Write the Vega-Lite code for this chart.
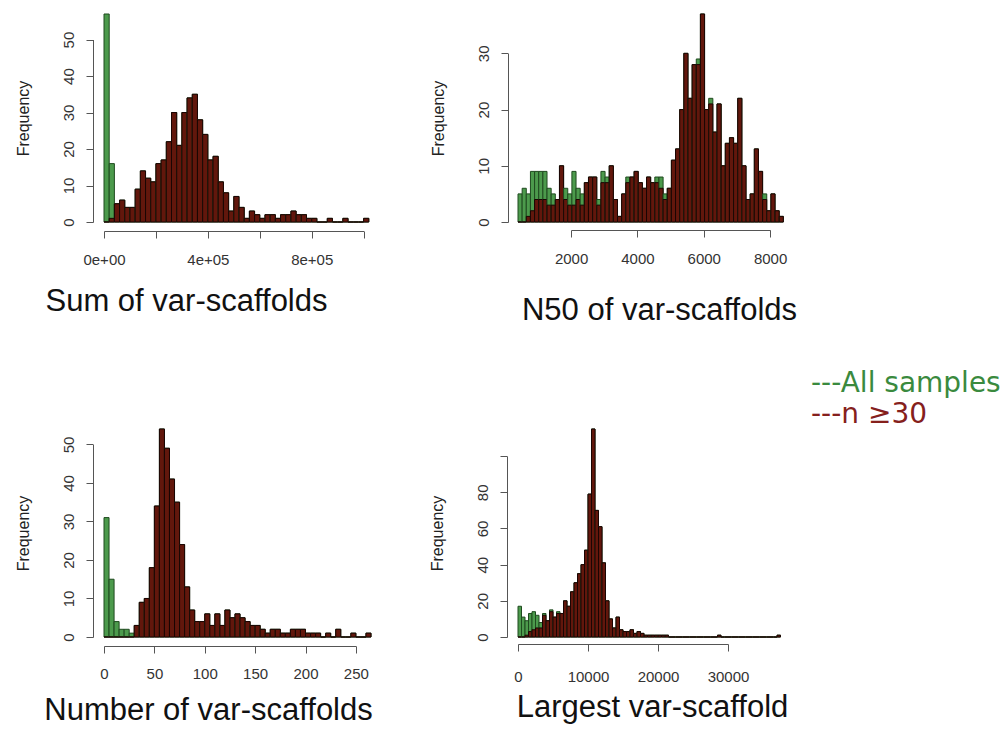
{
  "$schema": "https://vega.github.io/schema/vega-lite/v6.json",
  "background": "white",
  "padding": {"left": 15, "top": 13, "right": 2, "bottom": 0},
  "bounds": "flush",
  "columns": 2,
  "spacing": {"row": 207, "column": 144},
  "datasets": {
    "sum": [
      {"b":0,"e":20000,"all":57,"n30":0},{"b":20000,"e":40000,"all":16,"n30":1},{"b":40000,"e":60000,"all":5,"n30":5},{"b":60000,"e":80000,"all":6,"n30":6},{"b":80000,"e":100000,"all":4,"n30":4},{"b":100000,"e":120000,"all":4,"n30":4},{"b":120000,"e":140000,"all":9,"n30":9},{"b":140000,"e":160000,"all":14,"n30":14},{"b":160000,"e":180000,"all":12,"n30":12},{"b":180000,"e":200000,"all":11,"n30":11},{"b":200000,"e":220000,"all":16,"n30":16},{"b":220000,"e":240000,"all":17,"n30":17},{"b":240000,"e":260000,"all":22,"n30":22},{"b":260000,"e":280000,"all":30,"n30":30},{"b":280000,"e":300000,"all":21,"n30":21},{"b":300000,"e":320000,"all":30,"n30":30},{"b":320000,"e":340000,"all":34,"n30":34},{"b":340000,"e":360000,"all":35,"n30":35},{"b":360000,"e":380000,"all":28,"n30":28},{"b":380000,"e":400000,"all":24,"n30":24},{"b":400000,"e":420000,"all":17,"n30":17},{"b":420000,"e":440000,"all":18,"n30":18},{"b":440000,"e":460000,"all":11,"n30":11},{"b":460000,"e":480000,"all":8,"n30":8},{"b":480000,"e":500000,"all":3,"n30":3},{"b":500000,"e":520000,"all":7,"n30":7},{"b":520000,"e":540000,"all":4,"n30":4},{"b":540000,"e":560000,"all":1,"n30":1},{"b":560000,"e":580000,"all":3,"n30":3},{"b":580000,"e":600000,"all":2,"n30":2},{"b":600000,"e":620000,"all":1,"n30":1},{"b":620000,"e":640000,"all":2,"n30":2},{"b":640000,"e":660000,"all":2,"n30":2},{"b":660000,"e":680000,"all":1,"n30":1},{"b":680000,"e":700000,"all":2,"n30":2},{"b":700000,"e":720000,"all":2,"n30":2},{"b":720000,"e":740000,"all":3,"n30":3},{"b":740000,"e":760000,"all":2,"n30":2},{"b":760000,"e":780000,"all":2,"n30":2},{"b":780000,"e":800000,"all":1,"n30":1},{"b":800000,"e":820000,"all":1,"n30":1},{"b":820000,"e":840000,"all":0,"n30":0},{"b":840000,"e":860000,"all":0,"n30":0},{"b":860000,"e":880000,"all":1,"n30":1},{"b":880000,"e":900000,"all":0,"n30":0},{"b":900000,"e":920000,"all":0,"n30":0},{"b":920000,"e":940000,"all":1,"n30":1},{"b":940000,"e":960000,"all":0,"n30":0},{"b":960000,"e":980000,"all":0,"n30":0},{"b":980000,"e":1000000,"all":0,"n30":0},{"b":1000000,"e":1020000,"all":1,"n30":1}
    ],
    "n50": [
      {"b":400,"e":525,"all":5,"n30":0},{"b":525,"e":650,"all":6,"n30":0},{"b":650,"e":775,"all":5,"n30":1},{"b":775,"e":900,"all":9,"n30":2},{"b":900,"e":1025,"all":9,"n30":4},{"b":1025,"e":1150,"all":9,"n30":4},{"b":1150,"e":1275,"all":9,"n30":4},{"b":1275,"e":1400,"all":6,"n30":3},{"b":1400,"e":1525,"all":5,"n30":3},{"b":1525,"e":1650,"all":4,"n30":4},{"b":1650,"e":1775,"all":10,"n30":10},{"b":1775,"e":1900,"all":6,"n30":4},{"b":1900,"e":2025,"all":5,"n30":3},{"b":2025,"e":2150,"all":9,"n30":3},{"b":2150,"e":2275,"all":6,"n30":4},{"b":2275,"e":2400,"all":5,"n30":3},{"b":2400,"e":2525,"all":7,"n30":7},{"b":2525,"e":2650,"all":8,"n30":8},{"b":2650,"e":2775,"all":8,"n30":8},{"b":2775,"e":2900,"all":4,"n30":3},{"b":2900,"e":3025,"all":9,"n30":7},{"b":3025,"e":3150,"all":8,"n30":7},{"b":3150,"e":3275,"all":10,"n30":10},{"b":3275,"e":3400,"all":4,"n30":4},{"b":3400,"e":3525,"all":1,"n30":1},{"b":3525,"e":3650,"all":5,"n30":5},{"b":3650,"e":3775,"all":8,"n30":7},{"b":3775,"e":3900,"all":8,"n30":8},{"b":3900,"e":4025,"all":9,"n30":9},{"b":4025,"e":4150,"all":7,"n30":7},{"b":4150,"e":4275,"all":6,"n30":6},{"b":4275,"e":4400,"all":8,"n30":8},{"b":4400,"e":4525,"all":7,"n30":7},{"b":4525,"e":4650,"all":8,"n30":7},{"b":4650,"e":4775,"all":8,"n30":6},{"b":4775,"e":4900,"all":5,"n30":4},{"b":4900,"e":5025,"all":6,"n30":6},{"b":5025,"e":5150,"all":11,"n30":11},{"b":5150,"e":5275,"all":13,"n30":13},{"b":5275,"e":5400,"all":20,"n30":20},{"b":5400,"e":5525,"all":30,"n30":30},{"b":5525,"e":5650,"all":22,"n30":22},{"b":5650,"e":5775,"all":28,"n30":28},{"b":5775,"e":5900,"all":29,"n30":28},{"b":5900,"e":6025,"all":37,"n30":37},{"b":6025,"e":6150,"all":20,"n30":20},{"b":6150,"e":6275,"all":22,"n30":21},{"b":6275,"e":6400,"all":16,"n30":16},{"b":6400,"e":6525,"all":21,"n30":21},{"b":6525,"e":6650,"all":10,"n30":10},{"b":6650,"e":6775,"all":14,"n30":14},{"b":6775,"e":6900,"all":15,"n30":15},{"b":6900,"e":7025,"all":14,"n30":14},{"b":7025,"e":7150,"all":22,"n30":22},{"b":7150,"e":7275,"all":10,"n30":10},{"b":7275,"e":7400,"all":4,"n30":4},{"b":7400,"e":7525,"all":5,"n30":5},{"b":7525,"e":7650,"all":13,"n30":13},{"b":7650,"e":7775,"all":9,"n30":9},{"b":7775,"e":7900,"all":5,"n30":4},{"b":7900,"e":8025,"all":2,"n30":2},{"b":8025,"e":8150,"all":5,"n30":5},{"b":8150,"e":8275,"all":2,"n30":2},{"b":8275,"e":8400,"all":1,"n30":1}
    ],
    "num": [
      {"b":0,"e":5,"all":31,"n30":0},{"b":5,"e":10,"all":15,"n30":0},{"b":10,"e":15,"all":4,"n30":0},{"b":15,"e":20,"all":2,"n30":0},{"b":20,"e":25,"all":2,"n30":0},{"b":25,"e":30,"all":1,"n30":0},{"b":30,"e":35,"all":3,"n30":3},{"b":35,"e":40,"all":9,"n30":9},{"b":40,"e":45,"all":10,"n30":10},{"b":45,"e":50,"all":18,"n30":18},{"b":50,"e":55,"all":34,"n30":34},{"b":55,"e":60,"all":54,"n30":54},{"b":60,"e":65,"all":49,"n30":49},{"b":65,"e":70,"all":41,"n30":41},{"b":70,"e":75,"all":35,"n30":35},{"b":75,"e":80,"all":24,"n30":24},{"b":80,"e":85,"all":13,"n30":13},{"b":85,"e":90,"all":7,"n30":7},{"b":90,"e":95,"all":4,"n30":4},{"b":95,"e":100,"all":4,"n30":4},{"b":100,"e":105,"all":6,"n30":6},{"b":105,"e":110,"all":3,"n30":3},{"b":110,"e":115,"all":6,"n30":6},{"b":115,"e":120,"all":3,"n30":3},{"b":120,"e":125,"all":7,"n30":7},{"b":125,"e":130,"all":5,"n30":5},{"b":130,"e":135,"all":6,"n30":6},{"b":135,"e":140,"all":5,"n30":5},{"b":140,"e":145,"all":4,"n30":4},{"b":145,"e":150,"all":3,"n30":3},{"b":150,"e":155,"all":3,"n30":3},{"b":155,"e":160,"all":2,"n30":2},{"b":160,"e":165,"all":1,"n30":1},{"b":165,"e":170,"all":2,"n30":2},{"b":170,"e":175,"all":2,"n30":2},{"b":175,"e":180,"all":1,"n30":1},{"b":180,"e":185,"all":1,"n30":1},{"b":185,"e":190,"all":2,"n30":2},{"b":190,"e":195,"all":2,"n30":2},{"b":195,"e":200,"all":2,"n30":2},{"b":200,"e":205,"all":1,"n30":1},{"b":205,"e":210,"all":1,"n30":1},{"b":210,"e":215,"all":1,"n30":1},{"b":215,"e":220,"all":0,"n30":0},{"b":220,"e":225,"all":1,"n30":1},{"b":225,"e":230,"all":0,"n30":0},{"b":230,"e":235,"all":2,"n30":2},{"b":235,"e":240,"all":0,"n30":0},{"b":240,"e":245,"all":0,"n30":0},{"b":245,"e":250,"all":1,"n30":1},{"b":250,"e":255,"all":0,"n30":0},{"b":255,"e":260,"all":0,"n30":0},{"b":260,"e":265,"all":1,"n30":1}
    ],
    "largest": [
      {"b":0,"e":500,"all":17,"n30":0},{"b":500,"e":1000,"all":11,"n30":0},{"b":1000,"e":1500,"all":9,"n30":1},{"b":1500,"e":2000,"all":13,"n30":3},{"b":2000,"e":2500,"all":14,"n30":4},{"b":2500,"e":3000,"all":12,"n30":5},{"b":3000,"e":3500,"all":8,"n30":5},{"b":3500,"e":4000,"all":13,"n30":12},{"b":4000,"e":4500,"all":9,"n30":9},{"b":4500,"e":5000,"all":15,"n30":14},{"b":5000,"e":5500,"all":11,"n30":11},{"b":5500,"e":6000,"all":14,"n30":13},{"b":6000,"e":6500,"all":13,"n30":13},{"b":6500,"e":7000,"all":20,"n30":20},{"b":7000,"e":7500,"all":17,"n30":17},{"b":7500,"e":8000,"all":25,"n30":25},{"b":8000,"e":8500,"all":30,"n30":30},{"b":8500,"e":9000,"all":35,"n30":35},{"b":9000,"e":9500,"all":40,"n30":40},{"b":9500,"e":10000,"all":48,"n30":48},{"b":10000,"e":10500,"all":79,"n30":79},{"b":10500,"e":11000,"all":115,"n30":115},{"b":11000,"e":11500,"all":70,"n30":70},{"b":11500,"e":12000,"all":61,"n30":61},{"b":12000,"e":12500,"all":41,"n30":41},{"b":12500,"e":13000,"all":20,"n30":20},{"b":13000,"e":13500,"all":10,"n30":10},{"b":13500,"e":14000,"all":5,"n30":5},{"b":14000,"e":14500,"all":11,"n30":11},{"b":14500,"e":15000,"all":4,"n30":4},{"b":15000,"e":15500,"all":3,"n30":3},{"b":15500,"e":16000,"all":3,"n30":3},{"b":16000,"e":16500,"all":4,"n30":4},{"b":16500,"e":17000,"all":2,"n30":2},{"b":17000,"e":17500,"all":3,"n30":3},{"b":17500,"e":18000,"all":2,"n30":2},{"b":18000,"e":18500,"all":1,"n30":1},{"b":18500,"e":19000,"all":1,"n30":1},{"b":19000,"e":19500,"all":1,"n30":1},{"b":19500,"e":20000,"all":1,"n30":1},{"b":20000,"e":20500,"all":1,"n30":1},{"b":20500,"e":21000,"all":1,"n30":1},{"b":21000,"e":21500,"all":1,"n30":1},{"b":21500,"e":22000,"all":0,"n30":0},{"b":22000,"e":22500,"all":0,"n30":0},{"b":22500,"e":23000,"all":0,"n30":0},{"b":23000,"e":23500,"all":0,"n30":0},{"b":23500,"e":24000,"all":0,"n30":0},{"b":24000,"e":24500,"all":0,"n30":0},{"b":24500,"e":25000,"all":0,"n30":0},{"b":25000,"e":25500,"all":0,"n30":0},{"b":25500,"e":26000,"all":0,"n30":0},{"b":26000,"e":26500,"all":0,"n30":0},{"b":26500,"e":27000,"all":0,"n30":0},{"b":27000,"e":27500,"all":0,"n30":0},{"b":27500,"e":28000,"all":0,"n30":0},{"b":28000,"e":28500,"all":0,"n30":0},{"b":28500,"e":29000,"all":1,"n30":1},{"b":29000,"e":29500,"all":0,"n30":0},{"b":29500,"e":30000,"all":0,"n30":0},{"b":30000,"e":30500,"all":0,"n30":0},{"b":30500,"e":31000,"all":0,"n30":0},{"b":31000,"e":31500,"all":0,"n30":0},{"b":31500,"e":32000,"all":0,"n30":0},{"b":32000,"e":32500,"all":0,"n30":0},{"b":32500,"e":33000,"all":0,"n30":0},{"b":33000,"e":33500,"all":0,"n30":0},{"b":33500,"e":34000,"all":0,"n30":0},{"b":34000,"e":34500,"all":0,"n30":0},{"b":34500,"e":35000,"all":0,"n30":0},{"b":35000,"e":35500,"all":0,"n30":0},{"b":35500,"e":36000,"all":0,"n30":0},{"b":36000,"e":36500,"all":0,"n30":0},{"b":36500,"e":37000,"all":0,"n30":0},{"b":37000,"e":37500,"all":1,"n30":1}
    ]
  },
  "concat": [
    {
      "width": 270, "height": 208,
      "data": {"name": "sum"},
      "transform": [{"fold": ["all", "n30"], "as": ["key", "count"]}],
      "mark": {"type": "bar", "strokeWidth": 1},
      "encoding": {
        "x": {"field": "b", "type": "quantitative", "scale": {"domain": [0, 1040000], "nice": false, "zero": false},
          "axis": {"values": [0, 200000, 400000, 600000, 800000, 1000000], "labelExpr": "datum.value == 0 ? '0e+00' : datum.value == 400000 ? '4e+05' : datum.value == 800000 ? '8e+05' : ''", "offset": 9, "labelPadding": 14, "domainDash": [259.6, 1000],
            "title": "Sum of var-scaffolds", "titleX": 82, "titleY": 79, "titleAlign": "center", "titleBaseline": "alphabetic", "titleAnchor": null}},
        "x2": {"field": "e"},
        "y": {"field": "count", "type": "quantitative", "stack": null, "scale": {"domain": [0, 57], "nice": false},
          "axis": {"values": [0, 10, 20, 30, 40, 50], "title": "Frequency", "domainDash": [182.5, 1000]}},
        "y2": {"datum": 0},
        "color": {"field": "key", "type": "nominal", "scale": {"domain": ["all", "n30"], "range": ["#4c9a4c", "#62170c"]},
          "legend": {"orient": "none", "legendX": 679, "legendY": 356, "title": null, "symbolSize": 0, "symbolOpacity": 0, "symbolStrokeWidth": 0, "labelOffset": 0, "labelFont": "DejaVu Sans", "labelFontSize": 28, "labelLimit": 400, "rowPadding": 3,
            "labelExpr": "datum.value == 'all' ? '---All samples' : '---n \u226530'",
            "encode": {"labels": {"update": {"fill": {"signal": "datum.value == 'all' ? '#3a8a3e' : '#85201c'"}}}}}},
        "stroke": {"field": "key", "type": "nominal", "scale": {"domain": ["all", "n30"], "range": ["#1f4a1f", "#1a0503"]}, "legend": null}
      }
    },
    {
      "width": 266, "height": 208,
      "data": {"name": "n50"},
      "transform": [{"fold": ["all", "n30"], "as": ["key", "count"]}],
      "mark": {"type": "bar", "strokeWidth": 1},
      "encoding": {
        "x": {"field": "b", "type": "quantitative", "scale": {"domain": [400, 8420], "nice": false, "zero": false},
          "axis": {"values": [2000, 4000, 6000, 8000], "format": "d", "offset": 8, "labelPadding": 14, "domainDash": [0, 53.1, 199, 1000],
            "title": "N50 of var-scaffolds", "titleX": 141, "titleY": 89, "titleAlign": "center", "titleBaseline": "alphabetic", "titleAnchor": null}},
        "x2": {"field": "e"},
        "y": {"field": "count", "type": "quantitative", "stack": null, "scale": {"domain": [0, 37], "nice": false},
          "axis": {"values": [0, 10, 20, 30], "title": "Frequency", "offset": 10, "domainDash": [168.6, 1000]}},
        "y2": {"datum": 0},
        "color": {"field": "key", "type": "nominal", "scale": {"domain": ["all", "n30"], "range": ["#4c9a4c", "#62170c"]},
          "legend": {"orient": "none", "legendX": 679, "legendY": 356, "title": null, "symbolSize": 0, "symbolOpacity": 0, "symbolStrokeWidth": 0, "labelOffset": 0, "labelFont": "DejaVu Sans", "labelFontSize": 28, "labelLimit": 400, "rowPadding": 3,
            "labelExpr": "datum.value == 'all' ? '---All samples' : '---n \u226530'",
            "encode": {"labels": {"update": {"fill": {"signal": "datum.value == 'all' ? '#3a8a3e' : '#85201c'"}}}}}},
        "stroke": {"field": "key", "type": "nominal", "scale": {"domain": ["all", "n30"], "range": ["#1f4a1f", "#1a0503"]}, "legend": null}
      }
    },
    {
      "width": 267, "height": 208,
      "data": {"name": "num"},
      "transform": [{"fold": ["all", "n30"], "as": ["key", "count"]}],
      "mark": {"type": "bar", "strokeWidth": 1},
      "encoding": {
        "x": {"field": "b", "type": "quantitative", "scale": {"domain": [0, 265], "nice": false, "zero": false},
          "axis": {"values": [0, 50, 100, 150, 200, 250], "format": "d", "offset": 9, "labelPadding": 13, "domainDash": [251.9, 1000],
            "title": "Number of var-scaffolds", "titleX": 104, "titleY": 73, "titleAlign": "center", "titleBaseline": "alphabetic", "titleAnchor": null}},
        "x2": {"field": "e"},
        "y": {"field": "count", "type": "quantitative", "stack": null, "scale": {"domain": [0, 54], "nice": false},
          "axis": {"values": [0, 10, 20, 30, 40, 50], "title": "Frequency", "domainDash": [192.6, 1000]}},
        "y2": {"datum": 0},
        "color": {"field": "key", "type": "nominal", "scale": {"domain": ["all", "n30"], "range": ["#4c9a4c", "#62170c"]},
          "legend": {"orient": "none", "legendX": 679, "legendY": 356, "title": null, "symbolSize": 0, "symbolOpacity": 0, "symbolStrokeWidth": 0, "labelOffset": 0, "labelFont": "DejaVu Sans", "labelFontSize": 28, "labelLimit": 400, "rowPadding": 3,
            "labelExpr": "datum.value == 'all' ? '---All samples' : '---n \u226530'",
            "encode": {"labels": {"update": {"fill": {"signal": "datum.value == 'all' ? '#3a8a3e' : '#85201c'"}}}}}},
        "stroke": {"field": "key", "type": "nominal", "scale": {"domain": ["all", "n30"], "range": ["#1f4a1f", "#1a0503"]}, "legend": null}
      }
    },
    {
      "width": 266, "height": 208,
      "data": {"name": "largest"},
      "transform": [{"fold": ["all", "n30"], "as": ["key", "count"]}],
      "mark": {"type": "bar", "strokeWidth": 1},
      "encoding": {
        "x": {"field": "b", "type": "quantitative", "scale": {"domain": [0, 38000], "nice": false, "zero": false},
          "axis": {"values": [0, 10000, 20000, 30000], "format": "d", "offset": 7, "labelPadding": 18, "domainDash": [210, 1000],
            "title": "Largest  var-scaffold", "titleX": 134, "titleY": 72, "titleAlign": "center", "titleBaseline": "alphabetic", "titleAnchor": null}},
        "x2": {"field": "e"},
        "y": {"field": "count", "type": "quantitative", "stack": null, "scale": {"domain": [0, 115], "nice": false},
          "axis": {"values": [0, 20, 40, 60, 80, 100], "labelExpr": "datum.value == 100 ? '' : datum.label", "title": "Frequency", "domainDash": [180.9, 1000]}},
        "y2": {"datum": 0},
        "color": {"field": "key", "type": "nominal", "scale": {"domain": ["all", "n30"], "range": ["#4c9a4c", "#62170c"]},
          "legend": {"orient": "none", "legendX": 679, "legendY": 356, "title": null, "symbolSize": 0, "symbolOpacity": 0, "symbolStrokeWidth": 0, "labelOffset": 0, "labelFont": "DejaVu Sans", "labelFontSize": 28, "labelLimit": 400, "rowPadding": 3,
            "labelExpr": "datum.value == 'all' ? '---All samples' : '---n \u226530'",
            "encode": {"labels": {"update": {"fill": {"signal": "datum.value == 'all' ? '#3a8a3e' : '#85201c'"}}}}}},
        "stroke": {"field": "key", "type": "nominal", "scale": {"domain": ["all", "n30"], "range": ["#1f4a1f", "#1a0503"]}, "legend": null}
      }
    }
  ],
  "config": {
    "view": {"stroke": null},
    "axis": {"grid": false, "labelFont": "Liberation Sans", "labelFontSize": 15, "labelColor": "#333", "titleFont": "Liberation Sans", "titleFontWeight": "normal", "titleColor": "#222", "domainColor": "#555", "tickColor": "#555", "tickSize": 7, "labelOverlap": false},
    "axisX": {"labelAngle": 0, "labelFlush": false, "titleFontSize": 31, "titleColor": "#111"},
    "axisY": {"labelAngle": 270, "labelAlign": "center", "labelBaseline": "bottom", "labelPadding": 10, "offset": 11, "titleFontSize": 16, "titlePadding": 30}
  }
}
